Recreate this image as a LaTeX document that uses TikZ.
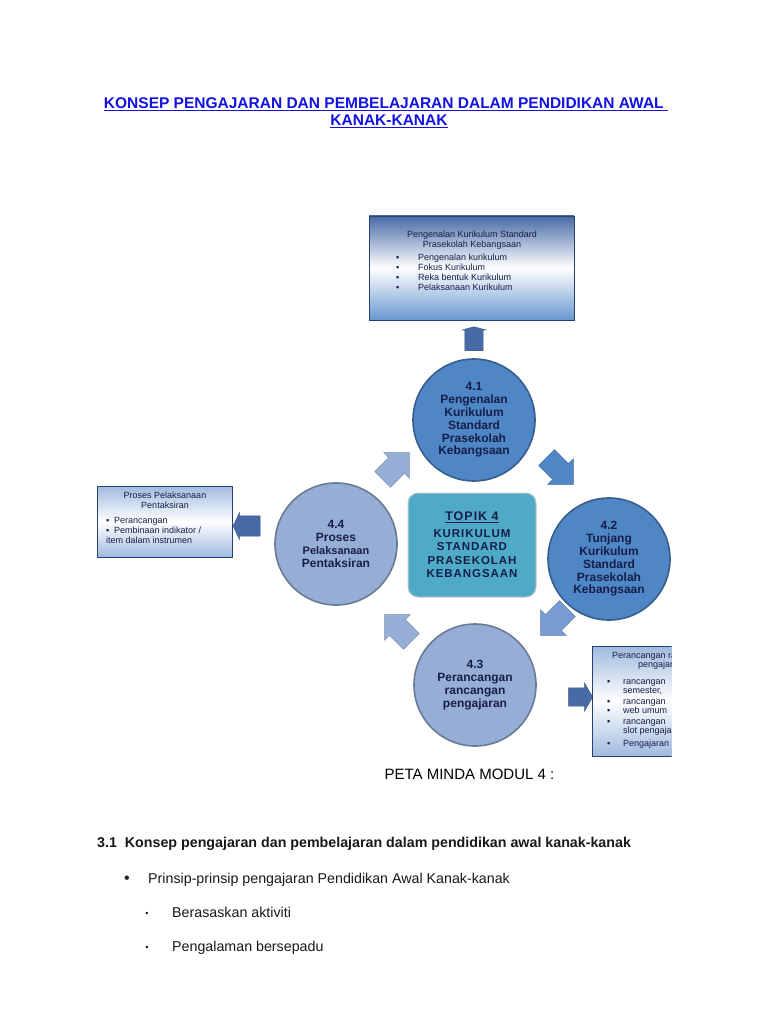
\documentclass[tikz,border=0pt]{standalone}
\usepackage{fontspec}
\setmainfont{Liberation Sans}
\newfontfamily\widecaps[LetterSpace=8]{Liberation Sans}
\usetikzlibrary{shapes.arrows}

\definecolor{linkblue}{RGB}{18,18,225}
\definecolor{ballblue}{RGB}{78,134,198}
\definecolor{ballpale}{RGB}{150,174,214}
\definecolor{ballmid}{RGB}{118,156,210}
\definecolor{topikteal}{RGB}{78,170,198}
\definecolor{inknavy}{RGB}{22,30,72}
\definecolor{framenavy}{RGB}{38,64,120}
\definecolor{shadedeep}{RGB}{72,106,166}
\definecolor{shadesoft}{RGB}{160,186,222}
\definecolor{textgray}{RGB}{25,25,25}

\newcommand{\boxfont}{\fontsize{9}{10}\selectfont}
\newcommand{\ballfont}{\fontsize{12}{12.8}\selectfont\bfseries}

\begin{document}
\begin{tikzpicture}[x=1pt, y=-1pt,
  ball/.style={circle, minimum size=122pt, inner sep=0pt, align=center,
    fill=#1, draw=#1!70!black, line width=1.6pt, text=inknavy, font=\ballfont},
  infobox/.style={rectangle, draw=framenavy, line width=0.8pt, inner sep=0pt},
  blockarrow/.style={single arrow, fill=#1, draw=#1!80!black, inner xsep=0pt},
  cyclearrow/.style={blockarrow=#1, minimum height=38, inner ysep=11pt,
    single arrow head extend=7pt, single arrow tip angle=90},
  boxtext/.style={font=\boxfont, text=inknavy, inner sep=0pt},
  bodytext/.style={font=\fontsize{14.25}{16}\selectfont, text=textgray,
    anchor=base west, inner sep=0pt},
]

  \useasboundingbox (0,0) rectangle (768,1024);
  \fill[white] (0,0) rectangle (768,1024);

  % ────────────────────────────────────────────────────────────────────
  % Title (blue, underlined)
  % ────────────────────────────────────────────────────────────────────
  \node[anchor=base, text=linkblue, font=\fontsize{15.5}{17}\selectfont\bfseries]
    (title1) at (386,109)
    {\underline{KONSEP PENGAJARAN DAN PEMBELAJARAN DALAM PENDIDIKAN AWAL\ }};
  \node[anchor=base, text=linkblue, font=\fontsize{15.5}{17}\selectfont\bfseries]
    (title2) at (389,126) {\underline{KANAK-KANAK}};

  % ────────────────────────────────────────────────────────────────────
  % Top info box (4.1)
  % ────────────────────────────────────────────────────────────────────
  \node[infobox, top color=shadedeep, bottom color=ballblue!85, middle color=white,
    minimum width=205, minimum height=104] (kpbox) at (471.5,268) {};
  \node[boxtext, align=center] (kphead) at (472,240)
    {Pengenalan Kurikulum Standard\\Prasekolah Kebangsaan};
  \node[boxtext, align=left, anchor=north west] (kplist) at (396,254)
    {\makebox[22pt][l]{▪}Pengenalan kurikulum\\
     \makebox[22pt][l]{▪}Fokus Kurikulum\\
     \makebox[22pt][l]{▪}Reka bentuk Kurikulum\\
     \makebox[22pt][l]{▪}Pelaksanaan Kurikulum};

  \node[blockarrow=shadedeep, rotate=90, minimum height=24, inner ysep=9pt,
    single arrow head extend=3pt, single arrow tip angle=150]
    (up41) at (474,340) {};

  % ────────────────────────────────────────────────────────────────────
  % Mind map: four circles round the topic box
  % ────────────────────────────────────────────────────────────────────
  \node[rectangle, rounded corners=10pt, fill=topikteal, draw=gray!45, line width=1pt,
    minimum width=128, minimum height=104, align=center, text=inknavy,
    font=\fontsize{11.5}{13.5}\selectfont\bfseries\widecaps] (topik) at (472,545)
    {{\fontsize{12.5}{13}\selectfont\underline{TOPIK 4}}\\[3pt]KURIKULUM\\STANDARD\\PRASEKOLAH\\KEBANGSAAN};

  \node[ball=ballblue] (c41) at (474,420)
    {4.1\\Pengenalan\\Kurikulum\\Standard\\Prasekolah\\Kebangsaan};
  \node[ball=ballblue] (c42) at (609,559)
    {4.2\\Tunjang\\Kurikulum\\Standard\\Prasekolah\\Kebangsaan};
  \node[ball=ballpale] (c43) at (475,685)
    {4.3\\Perancangan\\rancangan\\pengajaran};
  \node[ball=ballpale] (c44) at (336,544)
    {4.4\\Proses\\{\fontsize{11}{12.8}\selectfont Pelaksanaan}\\Pentaksiran};

  % cycle arrows (clockwise)
  \node[cyclearrow=ballpale, rotate=45]   (a441) at (392,470) {};
  \node[cyclearrow=ballblue, rotate=-45]  (a412) at (556,467) {};
  \node[cyclearrow=ballmid, rotate=-135]  (a423) at (558,618) {};
  \node[cyclearrow=ballpale, rotate=135]  (a434) at (402,632) {};

  % ────────────────────────────────────────────────────────────────────
  % Left info box (4.4)
  % ────────────────────────────────────────────────────────────────────
  \node[infobox, top color=shadesoft, bottom color=shadesoft, middle color=white,
    minimum width=135, minimum height=71] (pbox) at (164.5,521.5) {};
  \node[boxtext, align=center] (phead) at (165,500)
    {Proses Pelaksanaan\\Pentaksiran};
  \node[boxtext, align=left, anchor=north west] (plist) at (106,517)
    {\makebox[8pt][l]{▪}Perancangan\\
     \makebox[8pt][l]{▪}Pembinaan indikator /\\
     item dalam instrumen};

  \node[blockarrow=shadedeep, rotate=180, minimum height=27, inner ysep=10pt,
    single arrow head extend=3.5pt, single arrow tip angle=130]
    (left44) at (249,526) {};

  % ────────────────────────────────────────────────────────────────────
  % Right info box (4.3), cut off at the edge
  % ────────────────────────────────────────────────────────────────────
  \node[blockarrow=shadedeep, minimum height=24, inner ysep=9pt,
    single arrow head extend=5pt, single arrow tip angle=120]
    (right43) at (578,697) {};

  \begin{scope}
    \clip (590,640) rectangle (671.5,760);
    \node[infobox, top color=shadesoft, bottom color=shadesoft, middle color=white,
      minimum width=110, minimum height=110] (rbox) at (647,701) {};
    \node[boxtext, anchor=base west] (rhead) at (612,658) {Perancangan rancangan};
    \node[boxtext, anchor=base west] (rhead2) at (638,667) {pengajaran};
    \node[boxtext, align=left, anchor=north west, font=\fontsize{9}{9}\selectfont]
      (rlist) at (607,679)
      {\makebox[16pt][l]{▪}rancangan\\
       \makebox[16pt][l]{}semester,\\[2pt]
       \makebox[16pt][l]{▪}rancangan\\
       \makebox[16pt][l]{▪}web umum\\[2pt]
       \makebox[16pt][l]{▪}rancangan\\
       \makebox[16pt][l]{}slot pengajaran\\[4pt]
       \makebox[16pt][l]{▪}Pengajaran};
  \end{scope}

  \node[anchor=base west, font=\fontsize{15}{17}\selectfont, text=black]
    (peta) at (381,779) {PETA MINDA MODUL 4 :};

  % ────────────────────────────────────────────────────────────────────
  % Body text below the map
  % ────────────────────────────────────────────────────────────────────
  \node[bodytext, font=\fontsize{14.25}{16}\selectfont\bfseries] (sec31) at (97,847)
    {3.1\ \ Konsep pengajaran dan pembelajaran dalam pendidikan awal kanak-kanak};
  \node[anchor=base, font=\fontsize{16}{16}\selectfont, text=textgray] (dot1) at (127,883) {•};
  \node[bodytext] (prinsip) at (148,883)
    {Prinsip-prinsip pengajaran Pendidikan Awal Kanak-kanak};
  \node[anchor=base, font=\fontsize{9}{9}\selectfont, text=textgray] (dot2) at (147,916) {•};
  \node[bodytext] (aktiviti) at (172,917) {Berasaskan aktiviti};
  \node[anchor=base, font=\fontsize{9}{9}\selectfont, text=textgray] (dot3) at (147,950) {•};
  \node[bodytext] (sepadu) at (172,951) {Pengalaman bersepadu};

\end{tikzpicture}
\end{document}
